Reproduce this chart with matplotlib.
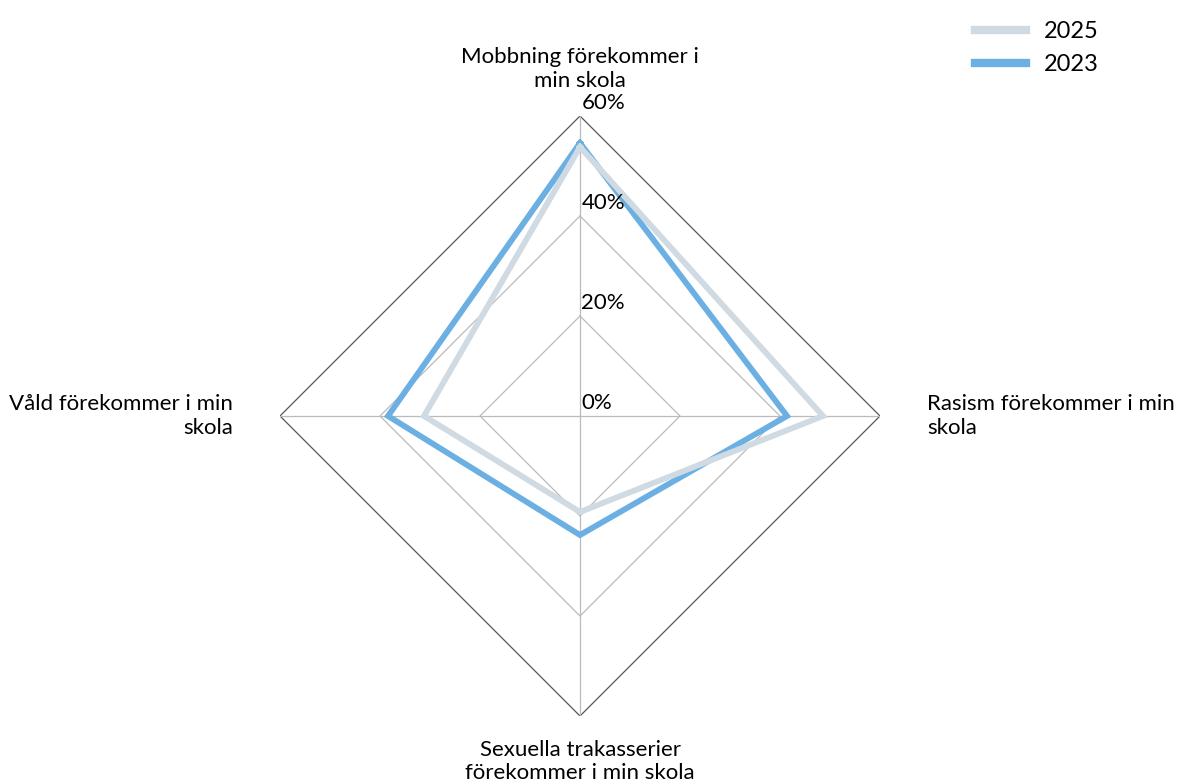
import numpy as np
import matplotlib
matplotlib.use("Agg")
import matplotlib.pyplot as plt

plt.rcParams['font.family'] = ['Lato', 'DejaVu Sans']

categories = ["Mobbning förekommer i\nmin skola",
              "Rasism förekommer i min\nskola",
              "Sexuella trakasserier\nförekommer i min skola",
              "Våld förekommer i min\nskola"]
values_2025 = [53.8, 48.6, 19.2, 31.2]
values_2023 = [54.6, 41.4, 23.8, 38.4]
ticks = [0, 20, 40, 60]
tick_labels = ["0%", "20%", "40%", "60%"]

c2025 = "#cfdae2"
c2023 = "#6cb0e3"

fig = plt.figure(figsize=(11.78, 7.83), dpi=100)
ax = fig.add_axes([280/1178, 67/783, 600/1178, 600/783], projection='polar')
ax.set_theta_zero_location('N')
ax.set_theta_direction(-1)
ax.set_ylim(0, 60)
ax.grid(False)
ax.spines['polar'].set_visible(False)
ax.set_xticks([])
ax.set_yticks([])
ax.patch.set_visible(False)

n = len(categories)
theta = np.arange(n) * 2 * np.pi / n
theta_c = np.append(theta, theta[0])

# grid diamonds
for t in ticks[1:]:
    col = "#555555" if t == ticks[-1] else "#bbbbbb"
    ax.plot(theta_c, [t] * (n + 1), color=col, lw=0.9, zorder=1)
for th in theta:
    ax.plot([th, th], [0, ticks[-1]], color="#bbbbbb", lw=0.9, zorder=1)

def closed(v):
    return list(v) + [v[0]]

l23, = ax.plot(theta_c, closed(values_2023), color=c2023, lw=4.2,
               solid_joinstyle='miter', zorder=3, label="2023")
l25, = ax.plot(theta_c, closed(values_2025), color=c2025, lw=4.2,
               solid_joinstyle='miter', zorder=4, label="2025")

for t, lab in zip(ticks, tick_labels):
    ax.annotate(lab, xy=(0, t), xytext=(1, 2), textcoords='offset points',
                ha='left', va='bottom', fontsize=16, color='black', zorder=5)

offsets = [(0, 18), (34, 0), (0, -17), (-34, 0)]
aligns = [('center', 'bottom', 'center'), ('left', 'center', 'left'),
          ('center', 'top', 'center'), ('right', 'center', 'right')]
for th, lab, off, (ha, va, ma) in zip(theta, categories, offsets, aligns):
    ax.annotate(lab, xy=(th, ticks[-1]), xytext=off, textcoords='offset points',
                ha=ha, va=va, multialignment=ma, fontsize=16, linespacing=1.22,
                annotation_clip=False)

fig.legend(handles=[l25, l23], loc='upper right', bbox_to_anchor=(0.951, 1.0),
           frameon=False, fontsize=17, handlelength=2.2, handletextpad=0.75,
           labelspacing=0.5)
for h in fig.legends[0].get_lines():
    h.set_linewidth(6)

fig.savefig("out.png", dpi=100)
